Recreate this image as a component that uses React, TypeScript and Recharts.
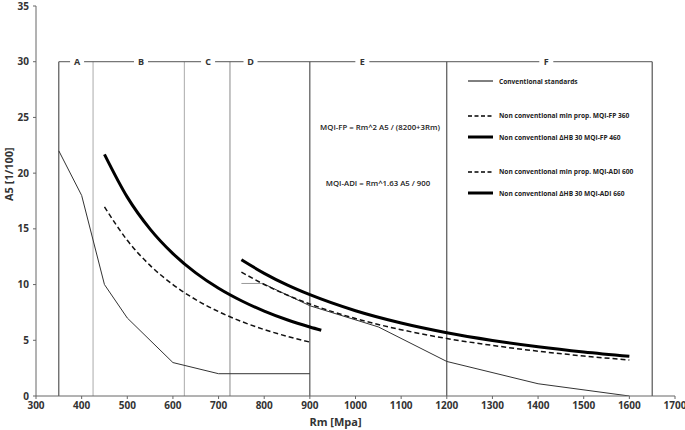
import React from "react";
import { LineChart, Line, XAxis, YAxis, ReferenceLine, ReferenceDot } from "recharts";

// x ticks / y ticks
const xTicks = [300, 400, 500, 600, 700, 800, 900, 1000, 1100, 1200, 1300, 1400, 1500, 1600, 1700];
const yTicks = [0, 5, 10, 15, 20, 25, 30, 35];

// conventional standards (two pieces + short grey stub)
const convLowRm = [350, 400, 450, 500, 600, 700, 900];
const convLowA5 = [22, 18, 10, 7, 3, 2, 2];
const convHighRm = [797, 900, 1050, 1200, 1400, 1600];
const convHighA5 = [10.1, 8.1, 6.2, 3.1, 1.1, 0];
const convStubRm = [750, 797];
const convStubA5 = [10.1, 10.1];

// MQI-FP curves
const fpRm = [450, 500, 550, 600, 650, 700, 750, 800, 850, 900, 925];
const fp360 = [16.98, 13.97, 11.72, 10.0, 8.65, 7.57, 6.69, 5.96, 5.36, 4.84];
const fp460 = [21.69, 17.85, 14.98, 12.78, 11.05, 9.67, 8.55, 7.62, 6.84, 6.19, 5.9];

// MQI-ADI curves
const adiRm = [750, 800, 850, 900, 1000, 1100, 1200, 1300, 1400, 1500, 1600];
const adi600 = [11.12, 10.01, 9.06, 8.26, 6.95, 5.95, 5.16, 4.54, 4.02, 3.59, 3.23];
const adi660 = [12.23, 11.01, 9.97, 9.09, 7.65, 6.55, 5.68, 4.99, 4.42, 3.95, 3.56];

// zones
const zoneBounds = [350, 425, 625, 725, 900, 1200, 1650];
const zoneLetters = ["A", "B", "C", "D", "E", "F"];
const zoneLetterRm = [390, 530, 677, 770, 1015, 1418];
const zoneTop = 30;

const legendNames = [
  "Conventional standards",
  "Non conventional min prop. MQI-FP 360",
  "Non conventional ΔHB 30 MQI-FP 460",
  "Non conventional min prop. MQI-ADI 600",
  "Non conventional ΔHB 30 MQI-ADI 660",
];

const zip = (xs: number[], ys: number[]) => ys.map((y, i) => ({ x: xs[i], y }));

const font = "'Open Sans', 'Liberation Sans', sans-serif";
const boundColor = ["#333", "#aaa", "#aaa", "#888", "#333", "#333", "#333"];
const legendTop = [76, 110.5, 132, 166.5, 188];
const legendStroke = [
  { w: 1, dash: undefined },
  { w: 1.5, dash: "4 2.5" },
  { w: 3, dash: undefined },
  { w: 1.5, dash: "4 2.5" },
  { w: 3, dash: undefined },
];

function LetterBox(props: any) {
  const { cx, cy, letter } = props;
  return (
    <g>
      <rect x={cx - 7} y={cy - 6} width={14} height={12} fill="#fff" />
      <text x={cx} y={cy + 3.5} textAnchor="middle" fontSize={9} fontWeight={700} fill="#333" fontFamily={font}>
        {letter}
      </text>
    </g>
  );
}

export default function App() {
  return (
    <div style={{ position: "absolute", left: 0, top: 0, width: 685, height: 430, background: "#fff" }}>
      <LineChart width={685} height={430} margin={{ top: 6, right: 10, bottom: 0, left: 0 }}>
        <XAxis
          type="number"
          dataKey="x"
          domain={[300, 1700]}
          ticks={xTicks}
          allowDataOverflow
          height={34}
          stroke="#666"
          tickSize={3}
          tick={{ fontSize: 10, fontWeight: 700, fill: "#333", fontFamily: font, dy: 1 }}
          label={{ value: "Rm [Mpa]", position: "insideBottom", offset: 4, dx: -20, fontSize: 11, fontWeight: 700, fill: "#333", fontFamily: font }}
        />
        <YAxis
          type="number"
          domain={[0, 35]}
          ticks={yTicks}
          allowDataOverflow
          width={36}
          stroke="#666"
          tickSize={3}
          tick={{ fontSize: 10, fontWeight: 700, fill: "#333", fontFamily: font, dx: -2 }}
          label={{ value: "A5 [1/100]", angle: -90, position: "insideLeft", dx: 4, fontSize: 11, fontWeight: 700, fill: "#333", fontFamily: font }}
        />
        {zoneBounds.map((b, i) => (
          <ReferenceLine key={b} segment={[{ x: b, y: 0 }, { x: b, y: zoneTop }]} stroke={boundColor[i]} strokeWidth={1} />
        ))}
        <ReferenceLine segment={[{ x: zoneBounds[0], y: zoneTop }, { x: zoneBounds[zoneBounds.length - 1], y: zoneTop }]} stroke="#555" strokeWidth={1} />
        {zoneLetters.map((l, i) => (
          <ReferenceDot key={l} x={zoneLetterRm[i]} y={zoneTop} r={0} shape={(p: any) => <LetterBox {...p} letter={l} />} />
        ))}
        <Line data={zip(convStubRm, convStubA5)} dataKey="y" stroke="#999" strokeWidth={1} dot={false} isAnimationActive={false} />
        <Line data={zip(convLowRm, convLowA5)} dataKey="y" stroke="#333" strokeWidth={1} dot={false} isAnimationActive={false} name={legendNames[0]} />
        <Line data={zip(convHighRm, convHighA5)} dataKey="y" stroke="#333" strokeWidth={1} dot={false} isAnimationActive={false} />
        <Line data={zip(fpRm, fp360)} dataKey="y" type="monotone" stroke="#111" strokeWidth={1.5} strokeDasharray="5 3" dot={false} isAnimationActive={false} name={legendNames[1]} />
        <Line data={zip(fpRm, fp460)} dataKey="y" type="monotone" stroke="#000" strokeWidth={3} dot={false} isAnimationActive={false} name={legendNames[2]} />
        <Line data={zip(adiRm, adi600)} dataKey="y" type="monotone" stroke="#111" strokeWidth={1.5} strokeDasharray="5 3" dot={false} isAnimationActive={false} name={legendNames[3]} />
        <Line data={zip(adiRm, adi660)} dataKey="y" type="monotone" stroke="#000" strokeWidth={3} dot={false} isAnimationActive={false} name={legendNames[4]} />
      </LineChart>
      {legendNames.map((n, i) => (
        <div key={n} style={{ position: "absolute", left: 468, top: legendTop[i], display: "flex", alignItems: "center", height: 10, fontFamily: font }}>
          <svg width={26} height={6}>
            <line x1={0} y1={3} x2={25} y2={3} stroke="#000" strokeWidth={legendStroke[i].w} strokeDasharray={legendStroke[i].dash} />
          </svg>
          <span style={{ marginLeft: 5, fontSize: 6.6, fontWeight: 700, color: "#222", whiteSpace: "nowrap" }}>{n}</span>
        </div>
      ))}
      <div style={{ position: "absolute", left: 310, top: 122, width: 140, textAlign: "center", fontFamily: font, fontSize: 7.8, fontWeight: 600, color: "#222", whiteSpace: "nowrap" }}>
        MQI-FP = Rm^2 A5 / (8200+3Rm)
      </div>
      <div style={{ position: "absolute", left: 310, top: 178, width: 136, textAlign: "center", fontFamily: font, fontSize: 7.8, fontWeight: 600, color: "#222", whiteSpace: "nowrap" }}>
        MQI-ADI = Rm^1.63 A5 / 900
      </div>
    </div>
  );
}
